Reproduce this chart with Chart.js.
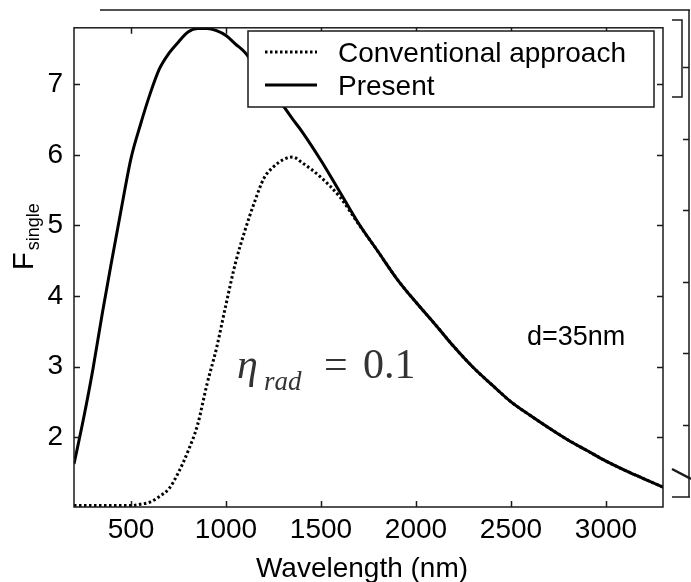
<!DOCTYPE html>
<html>
<head>
<meta charset="utf-8">
<script src="https://cdn.jsdelivr.net/npm/chart.js@4.4.1/dist/chart.umd.min.js"></script>
<style>
  body { margin: 0; background: #fff; }
  #wrap { width: 691px; height: 582px; }
</style>
</head>
<body>
<div id="wrap"><canvas id="myChart" width="691" height="582"></canvas></div>
<script>
// data
const wavelength = [200, 250, 300, 350, 400, 450, 500, 550, 600, 650, 700, 750, 800, 850, 900, 950, 1000, 1050, 1100, 1150, 1200, 1250, 1300, 1350, 1400, 1500, 1600, 1700, 1800, 1900, 2000, 2100, 2200, 2300, 2400, 2500, 2600, 2700, 2800, 2900, 3000, 3100, 3200, 3300];
const present = [1.62, 2.26, 2.97, 3.77, 4.52, 5.25, 5.95, 6.43, 6.86, 7.22, 7.44, 7.60, 7.74, 7.79, 7.79, 7.76, 7.69, 7.57, 7.45, 7.27, 7.09, 6.90, 6.70, 6.51, 6.33, 5.92, 5.47, 5.02, 4.63, 4.24, 3.91, 3.60, 3.28, 2.99, 2.74, 2.50, 2.31, 2.13, 1.96, 1.81, 1.66, 1.53, 1.41, 1.29];
const conventional = [1.03, 1.03, 1.03, 1.03, 1.03, 1.03, 1.03, 1.05, 1.08, 1.16, 1.27, 1.50, 1.80, 2.17, 2.75, 3.26, 3.88, 4.47, 4.93, 5.33, 5.67, 5.83, 5.93, 5.97, 5.89, 5.68, 5.40, 5.01, 4.63, 4.24, 3.91, 3.60, 3.28, 2.99, 2.74, 2.50, 2.31, 2.13, 1.96, 1.81, 1.66, 1.53, 1.41, 1.29];
const xTicks = [500, 1000, 1500, 2000, 2500, 3000];
const yTicks = [2, 3, 4, 5, 6, 7];

const sans = '"Liberation Sans", Arial, sans-serif';
const serif = '"Liberation Serif", "Times New Roman", serif';

function toPoints(ys) {
    return wavelength.map((x, i) => ({ x: x, y: ys[i] }));
}

// frame, inward ticks, legend, labels
const decor = {
    id: 'decor',
    afterDatasetsDraw(chart) {
        const ctx = chart.ctx;
        const a = chart.chartArea;
        const xs = chart.scales.x;
        const ys = chart.scales.y;
        ctx.save();
        ctx.strokeStyle = '#1a1a1a';
        ctx.lineWidth = 1.5;
        ctx.strokeRect(a.left, a.top, a.right - a.left, a.bottom - a.top);

        ctx.beginPath();
        for (const v of xTicks) {
            const px = Math.round(xs.getPixelForValue(v)) + 0.5;
            ctx.moveTo(px, a.bottom); ctx.lineTo(px, a.bottom - 6);
            ctx.moveTo(px, a.top); ctx.lineTo(px, a.top + 6);
        }
        for (const v of yTicks) {
            const py = Math.round(ys.getPixelForValue(v)) + 0.5;
            ctx.moveTo(a.left, py); ctx.lineTo(a.left + 6, py);
            ctx.moveTo(a.right, py); ctx.lineTo(a.right - 6, py);
        }
        ctx.stroke();

        // pieces of the neighbouring panel at the right edge
        ctx.beginPath();
        ctx.moveTo(100, 10); ctx.lineTo(690, 10);
        ctx.moveTo(689, 10); ctx.lineTo(689, 497);
        ctx.moveTo(672, 20); ctx.lineTo(682, 20); ctx.lineTo(682, 97); ctx.lineTo(672, 97);
        ctx.moveTo(672, 497); ctx.lineTo(690, 497);
        for (const t of [67, 139, 210, 282, 353, 425]) {
            ctx.moveTo(689, t + 0.5); ctx.lineTo(683, t + 0.5);
        }
        ctx.stroke();
        ctx.lineWidth = 2.5;
        ctx.beginPath();
        ctx.moveTo(672, 469); ctx.lineTo(691, 479);
        ctx.stroke();

        // legend
        const lx = 248, ly = 31, lw = 406, lh = 76;
        ctx.fillStyle = '#fff';
        ctx.fillRect(lx, ly, lw, lh);
        ctx.lineWidth = 1.5;
        ctx.strokeStyle = '#1a1a1a';
        ctx.strokeRect(lx, ly, lw, lh);
        const rows = [52, 85];
        chart.data.datasets.forEach((ds, i) => {
            ctx.beginPath();
            ctx.lineWidth = ds.borderWidth;
            ctx.strokeStyle = ds.borderColor;
            ctx.setLineDash(ds.borderDash || []);
            ctx.moveTo(265, rows[i]); ctx.lineTo(317, rows[i]);
            ctx.stroke();
            ctx.setLineDash([]);
            ctx.fillStyle = '#000';
            ctx.font = '28px ' + sans;
            ctx.textBaseline = 'alphabetic';
            ctx.textAlign = 'left';
            ctx.fillText(ds.label, 338, rows[i] + 10);
        });

        // axis titles
        ctx.fillStyle = '#000';
        ctx.font = '28px ' + sans;
        ctx.textAlign = 'center';
        ctx.fillText('Wavelength (nm)', 362, 577);

        ctx.save();
        ctx.translate(33, 270);
        ctx.rotate(-Math.PI / 2);
        ctx.textAlign = 'left';
        ctx.font = '29px ' + sans;
        ctx.fillText('F', 0, 0);
        const fw = ctx.measureText('F').width;
        ctx.font = '18px ' + sans;
        ctx.fillText('single', fw + 2, 6);
        ctx.restore();

        // annotations
        ctx.textAlign = 'left';
        ctx.font = '27px ' + sans;
        ctx.fillText('d=35nm', 527, 345);

        ctx.fillStyle = '#333';
        ctx.font = 'italic 42px ' + serif;
        ctx.fillText('\u03b7', 237, 378);
        ctx.font = 'italic 27px ' + serif;
        ctx.fillText('rad', 264, 390);
        ctx.font = '42px ' + serif;
        ctx.fillText('=', 324, 378);
        ctx.fillText('0.1', 363, 378);
        ctx.restore();
    }
};

const ctx = document.getElementById('myChart');
new Chart(ctx, {
    type: 'line',
    data: {
        datasets: [{
            label: 'Conventional approach',
            data: toPoints(conventional),
            borderColor: '#000',
            borderWidth: 3,
            borderDash: [2.5, 2.5],
            pointRadius: 0,
            cubicInterpolationMode: 'monotone',
            order: 2
        }, {
            label: 'Present',
            data: toPoints(present),
            borderColor: '#000',
            borderWidth: 3,
            pointRadius: 0,
            cubicInterpolationMode: 'monotone',
            order: 1
        }]
    },
    options: {
        responsive: false,
        animation: false,
        layout: { padding: { top: 20, right: 28, left: 0, bottom: 0 } },
        plugins: {
            legend: { display: false },
            tooltip: { enabled: false }
        },
        scales: {
            x: {
                type: 'linear',
                min: 200,
                max: 3300,
                afterFit: s => { s.height = 75; },
                afterBuildTicks: s => { s.ticks = xTicks.map(v => ({ value: v })); },
                grid: { display: false, drawTicks: false },
                border: { display: false },
                ticks: {
                    padding: 6,
                    color: '#000',
                    font: { size: 28, family: sans },
                    maxRotation: 0,
                    callback: v => String(v)
                }
            },
            y: {
                min: 1.01,
                max: 7.8,
                afterFit: s => { s.width = 74; },
                afterBuildTicks: s => { s.ticks = yTicks.map(v => ({ value: v })); },
                grid: { display: false, drawTicks: false },
                border: { display: false },
                ticks: {
                    padding: 11,
                    color: '#000',
                    font: { size: 28, family: sans },
                    callback: v => String(v)
                }
            }
        }
    },
    plugins: [decor]
});
</script>
</body>
</html>
